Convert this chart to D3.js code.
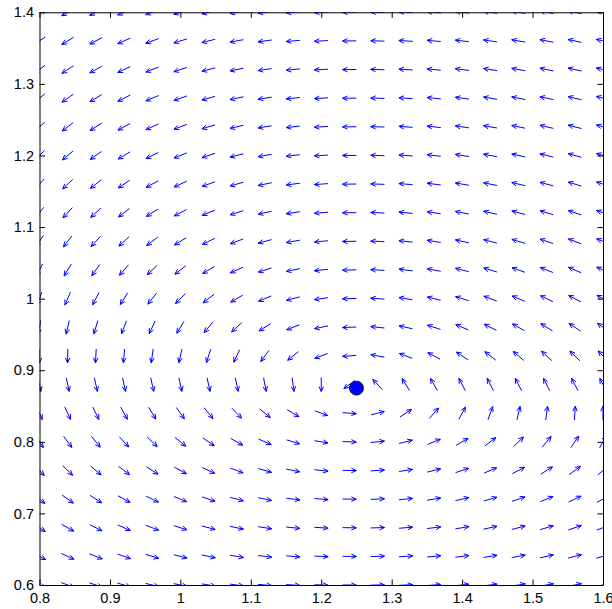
<!DOCTYPE html>
<html>
<head>
<meta charset="utf-8">
<script src="https://cdn.jsdelivr.net/npm/d3@7"></script>
<style>
  html, body { margin: 0; padding: 0; background: #fff; }
  svg { display: block; }
  .tick-label { font-family: "Liberation Sans", Arial, Helvetica, sans-serif; font-size: 14.5px; fill: #000; }
</style>
</head>
<body>
<svg id="chart" width="612" height="609"></svg>
<script>
// Sample points of the direction field (x: prey, y: predator)
const xGrid = [0.80, 0.84, 0.88, 0.92, 0.96, 1.00, 1.04, 1.08, 1.12, 1.16, 1.20,
               1.24, 1.28, 1.32, 1.36, 1.40, 1.44, 1.48, 1.52, 1.56, 1.60];
const yGrid = [0.60, 0.64, 0.68, 0.72, 0.76, 0.80, 0.84, 0.88, 0.92, 0.96, 1.00,
               1.04, 1.08, 1.12, 1.16, 1.20, 1.24, 1.28, 1.32, 1.36, 1.40];

// Axis ticks
const xTicks = [0.8, 0.9, 1.0, 1.1, 1.2, 1.3, 1.4, 1.5, 1.6];
const yTicks = [0.6, 0.7, 0.8, 0.9, 1.0, 1.1, 1.2, 1.3, 1.4];
const xTickLabels = ["0.8", "0.9", "1", "1.1", "1.2", "1.3", "1.4", "1.5", "1.6"];
const yTickLabels = ["0.6", "0.7", "0.8", "0.9", "1", "1.1", "1.2", "1.3", "1.4"];

// Predator-prey model with logistic prey:
//   x' = x (a - e x - b y),   y' = y (d x - c)
const preyGrowth = 1.0;     // a
const preyCrowding = 0.1;   // e
const predation = 1.0;      // b
const predatorGain = 0.4;   // d
const predatorDeath = 0.5;  // c

// Interior equilibrium marked on the plot
const equilibrium = [1.25, 0.875];

const xDomain = [0.8, 1.6];
const yDomain = [0.6, 1.4];

const svg = d3.select("#chart");
const plotLeft = 39.5, plotRight = 603, plotTop = 12.3, plotBottom = 585;

const x = d3.scaleLinear().domain(xDomain).range([plotLeft, plotRight]);
const y = d3.scaleLinear().domain(yDomain).range([plotBottom, plotTop]);

svg.append("defs").append("clipPath").attr("id", "plot-clip")
  .append("rect")
  .attr("x", plotLeft).attr("y", plotTop)
  .attr("width", plotRight - plotLeft).attr("height", plotBottom - plotTop);

function field(px, py) {
  const u = px * (preyGrowth - preyCrowding * px - predation * py);
  const v = py * (predatorGain * px - predatorDeath);
  return [u, v];
}

// Unit-length arrows, centred on each sample point, with open V heads
const arrowLen = 0.0195;
const alpha = 0.36, beta = 0.45;
const arrows = [];
for (const py of yGrid) {
  for (const px of xGrid) {
    const [fu, fv] = field(px, py);
    const m = Math.hypot(fu, fv) || 1;
    const u = fu / m * arrowLen, v = fv / m * arrowLen;
    const x0 = px - u / 2, y0 = py - v / 2;
    const tx = x0 + u, ty = y0 + v;
    arrows.push({
      shaft: [[x0, y0], [tx, ty]],
      head: [
        [tx - alpha * (u + beta * v), ty - alpha * (v - beta * u)],
        [tx, ty],
        [tx - alpha * (u - beta * v), ty - alpha * (v + beta * u)]
      ]
    });
  }
}

const line = d3.line().x(d => x(d[0])).y(d => y(d[1]));

const gField = svg.append("g").attr("clip-path", "url(#plot-clip)")
  .attr("fill", "none").attr("stroke", "#0000ff").attr("stroke-width", 1)
  .attr("stroke-linejoin", "miter");

gField.selectAll("path.shaft").data(arrows).join("path")
  .attr("class", "shaft").attr("d", d => line(d.shaft));
gField.selectAll("path.head").data(arrows).join("path")
  .attr("class", "head").attr("d", d => line(d.head));

// Equilibrium point
svg.append("circle")
  .attr("cx", x(equilibrium[0])).attr("cy", y(equilibrium[1]))
  .attr("r", 7)
  .attr("fill", "#0000ff").attr("stroke", "#000").attr("stroke-width", 0.8);

// Axes box with inward ticks on all four sides
const tickLen = 5.5;
const axisBottom = d3.axisBottom(x).tickValues(xTicks).tickSizeInner(-tickLen).tickSizeOuter(0)
  .tickFormat((d, i) => xTickLabels[i]).tickPadding(8);
const axisLeft = d3.axisLeft(y).tickValues(yTicks).tickSizeInner(-tickLen).tickSizeOuter(0)
  .tickFormat((d, i) => yTickLabels[i]).tickPadding(5.5);
const axisTop = d3.axisTop(x).tickValues(xTicks).tickSizeInner(-tickLen).tickSizeOuter(0).tickFormat("");
const axisRight = d3.axisRight(y).tickValues(yTicks).tickSizeInner(-tickLen).tickSizeOuter(0).tickFormat("");

function styleAxis(g) {
  g.select(".domain").attr("stroke", "#000").attr("stroke-width", 1);
  g.selectAll(".tick line").attr("stroke", "#000").attr("stroke-width", 1);
  g.selectAll(".tick text").attr("class", "tick-label").attr("font-size", null).attr("font-family", null);
}

svg.append("g").attr("transform", `translate(0,${plotBottom})`).call(axisBottom).call(styleAxis);
svg.append("g").attr("transform", `translate(${plotLeft},0)`).call(axisLeft).call(styleAxis);
svg.append("g").attr("transform", `translate(0,${plotTop})`).call(axisTop).call(styleAxis);
svg.append("g").attr("transform", `translate(${plotRight},0)`).call(axisRight).call(styleAxis);
</script>
</body>
</html>
